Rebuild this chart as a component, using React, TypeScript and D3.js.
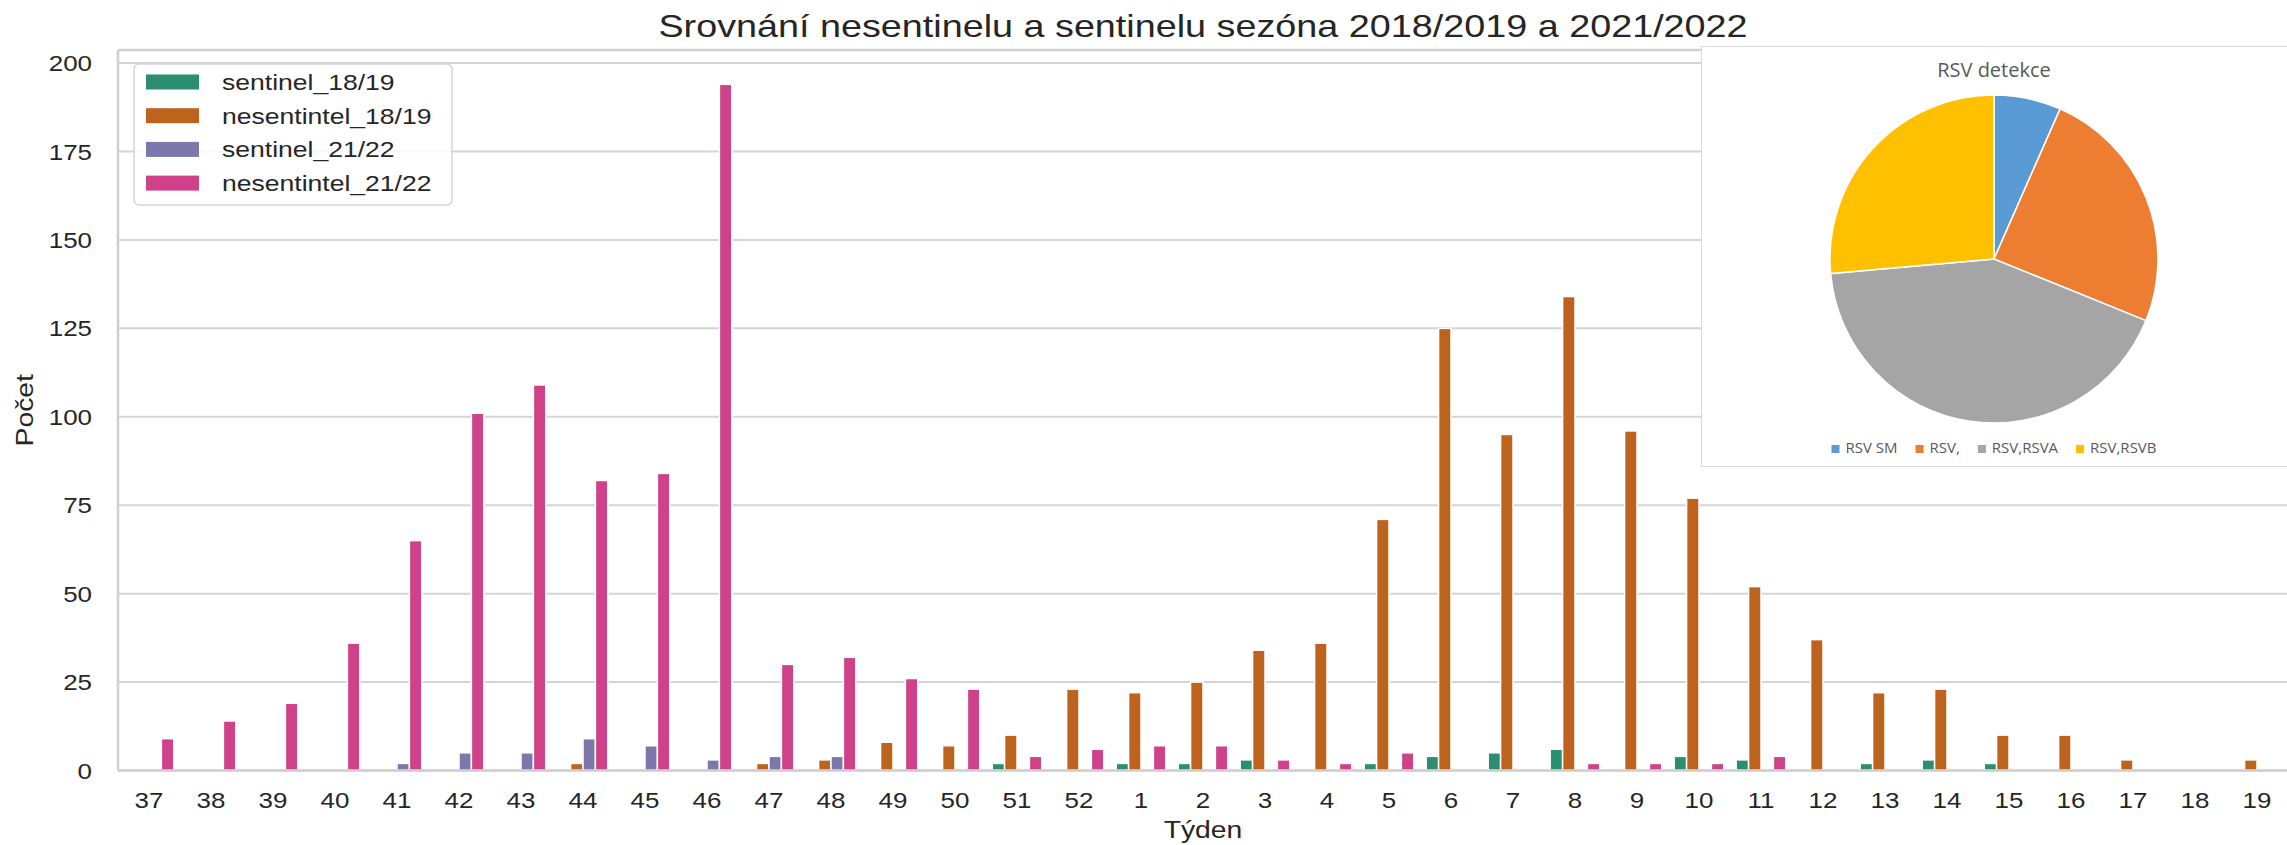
import React from "react";
import * as d3 from "d3";

const weeks = ["37","38","39","40","41","42","43","44","45","46","47","48","49","50","51","52","1","2","3","4","5","6","7","8","9","10","11","12","13","14","15","16","17","18","19"];
const seriesNames = ["sentinel_18/19", "nesentintel_18/19", "sentinel_21/22", "nesentintel_21/22"];
const sentinel1819 = [0,0,0,0,0,0,0,0,0,0,0,0,0,0,2,0,2,2,3,0,2,4,5,6,0,4,3,0,2,3,2,0,0,0,0];
const nesentintel1819 = [0,0,0,0,0,0,0,2,0,0,2,3,8,7,10,23,22,25,34,36,71,125,95,134,96,77,52,37,22,23,10,10,3,0,3];
const sentinel2122 = [0,0,0,0,2,5,5,9,7,3,4,4,0,0,0,0,0,0,0,0,0,0,0,0,0,0,0,0,0,0,0,0,0,0,0];
const nesentintel2122 = [9,14,19,36,65,101,109,82,84,194,30,32,26,23,4,6,7,7,3,2,5,0,0,2,2,2,4,0,0,0,0,0,0,0,0];
const baseColors = ["#1b9e77", "#d95f02", "#7570b3", "#e7298a"];
const yTickValues = [0, 25, 50, 75, 100, 125, 150, 175, 200];

const pieLabels = ["RSV SM", "RSV,", "RSV,RSVA", "RSV,RSVB"];
const pieValues = [7, 26, 45, 28];
const pieColors = ["#5B9BD5", "#ED7D31", "#A5A5A5", "#FFC000"];

const SX = 1.18;
const FONT = "'Liberation Sans', Arial, Helvetica, sans-serif";
const PIEFONT = "'Open Sans', 'Noto Sans', sans-serif";
const TXT = "#262626";

function desat(c: string) {
  const h = d3.hsl(c);
  h.s *= 0.75;
  return h.formatHex();
}

function SText(props: { x: number; y: number; size: number; anchor?: string; children: any; rotate?: number; fill?: string }) {
  const { x, y, size, anchor = "middle", children, rotate = 0, fill = TXT } = props;
  return (
    <g transform={`translate(${x},${y}) rotate(${rotate}) scale(${SX},1)`}>
      <text x={0} y={0} fontSize={size} fontFamily={FONT} textAnchor={anchor} fill={fill}>
        {children}
      </text>
    </g>
  );
}

function measure(text: string, font: string) {
  const c = document.createElement("canvas");
  const ctx = c.getContext("2d");
  if (!ctx) return text.length * 8;
  ctx.font = font;
  return ctx.measureText(text).width;
}

export default function App() {
  const W = 2287, H = 845;
  const left = 118, right = 2288, top = 50, bottom = 770.5;
  const seriesData = [sentinel1819, nesentintel1819, sentinel2122, nesentintel2122];
  const colors = baseColors.map(desat);
  const maxV = d3.max(seriesData.flat()) as number;

  const x = d3.scaleBand<string>().domain(weeks).range([left, right]).paddingInner(0).paddingOuter(0);
  const step = x.bandwidth();
  const sub = d3.scaleBand<string>().domain(seriesNames).range([0.1 * step, 0.9 * step]).padding(0);
  const y = d3.scaleLinear().domain([0, maxV * 1.05]).range([bottom, top]);

  // pie
  const pcx = 1994, pcy = 259, pr = 164;
  const pie = d3.pie<number>().sort(null).value((d) => d);
  const arcs = pie(pieValues);
  const arcGen = d3.arc<d3.PieArcDatum<number>>().innerRadius(0).outerRadius(pr);

  const legFont = `15px ${"Open Sans"}`;
  const legendItems: { x: number; label: string; color: string }[] = [];
  {
    const sq = 8, gapSqText = 6, gapItems = 18;
    const widths = pieLabels.map((l) => sq + gapSqText + measure(l, legFont));
    const total = d3.sum(widths) + gapItems * (widths.length - 1);
    let cx = pcx - total / 2;
    pieLabels.forEach((l, i) => {
      legendItems.push({ x: cx, label: l, color: pieColors[i] });
      cx += widths[i] + gapItems;
    });
  }

  return (
    <svg width={W} height={H} style={{ position: "absolute", left: 0, top: 0, background: "#fff" }}>
      <rect x={0} y={0} width={W} height={H} fill="#fff" />
      {/* grid */}
      {yTickValues.map((t) => (
        <line key={"g" + t} x1={left} x2={right} y1={y(t)} y2={y(t)} stroke="#d4d4d4" strokeWidth={2} />
      ))}
      {/* bars */}
      {seriesData.map((vals, si) =>
        vals.map((v, wi) =>
          v > 0 ? (
            <rect
              key={`b${si}-${wi}`}
              x={(x(weeks[wi]) as number) + (sub(seriesNames[si]) as number)}
              y={y(v)}
              width={sub.bandwidth()}
              height={y(0) - y(v)}
              fill={colors[si]}
              stroke="#fff"
              strokeWidth={1.5}
            />
          ) : null
        )
      )}
      {/* spines */}
      <line x1={left} x2={left} y1={top} y2={bottom} stroke="#cfcfcf" strokeWidth={2.5} />
      <line x1={left} x2={right} y1={bottom} y2={bottom} stroke="#cfcfcf" strokeWidth={2.5} />
      <line x1={left} x2={right} y1={top} y2={top} stroke="#cfcfcf" strokeWidth={2.5} />
      {/* y ticks */}
      {yTickValues.map((t) => (
        <SText key={"yt" + t} x={92} y={y(t) + 8} size={22} anchor="end">
          {t}
        </SText>
      ))}
      {/* x ticks */}
      {weeks.map((w) => (
        <SText key={"xt" + w} x={(x(w) as number) + step / 2} y={808} size={22}>
          {w}
        </SText>
      ))}
      <SText x={(left + right) / 2} y={838} size={24}>Týden</SText>
      <SText x={33} y={(top + bottom) / 2} size={24} rotate={-90}>Počet</SText>
      <SText x={(left + right) / 2} y={37} size={32}>Srovnání nesentinelu a sentinelu sezóna 2018/2019 a 2021/2022</SText>

      {/* legend */}
      <rect x={134} y={64} width={318} height={141} rx={5} fill="#fff" fillOpacity={0.8} stroke="#d6d6d6" strokeWidth={1.5} />
      {seriesNames.map((n, i) => {
        const cy = 82 + i * 33.7;
        return (
          <g key={"lg" + n}>
            <rect x={146} y={cy - 7.5} width={53} height={15} fill={colors[i]} />
            <SText x={222} y={cy + 8} size={22.5} anchor="start">{n}</SText>
          </g>
        );
      })}

      {/* pie panel */}
      <rect x={1701.5} y={46.5} width={W - 1701.5 + 5} height={420} fill="#fff" stroke="#d9d9d9" strokeWidth={1} />
      <text x={pcx} y={76.5} fontSize={20} fontFamily={PIEFONT} textAnchor="middle" fill="#595959">RSV detekce</text>
      <g transform={`translate(${pcx},${pcy})`}>
        {arcs.map((a, i) => (
          <path key={"p" + i} d={arcGen(a) as string} fill={pieColors[i]} stroke="#fff" strokeWidth={1.5} />
        ))}
      </g>
      {legendItems.map((it) => (
        <g key={"pl" + it.label}>
          <rect x={it.x} y={445} width={8} height={8} fill={it.color} />
          <text x={it.x + 14} y={453} fontSize={15} fontFamily={PIEFONT} fill="#595959">{it.label}</text>
        </g>
      ))}
    </svg>
  );
}
